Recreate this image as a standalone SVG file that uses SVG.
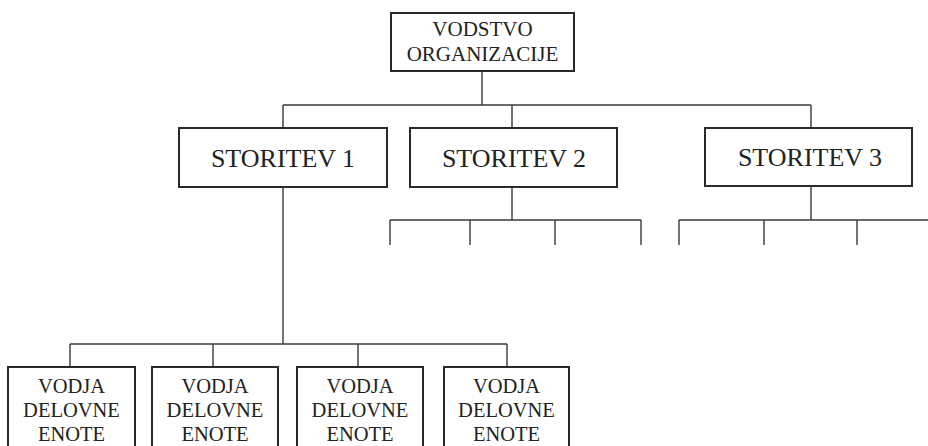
<svg xmlns="http://www.w3.org/2000/svg" width="928" height="446" viewBox="0 0 928 446">
  <style>
    .box { fill: #ffffff; stroke: #2a2a2a; stroke-width: 2; }
    .link { fill: none; stroke: #3a3a3a; stroke-width: 1.4; }
    .lbl { font-family: "Liberation Serif", "Times New Roman", serif; fill: #222222; text-anchor: middle; }
    .top { font-size: 21px; }
    .mid { font-size: 26px; }
    .low { font-size: 20.5px; }
  </style>
  <rect width="928" height="446" fill="#ffffff"/>

  <g id="connectors">
    <!-- leadership to services -->
    <path class="link" d="M482 71 V105 M283 105 H811 M283 105 V128 M512 105 V128 M811 105 V128"/>
    <!-- service 1 to unit leaders -->
    <path class="link" d="M283 187 V344 M70 344 H507 M70 344 V367 M213 344 V367 M358 344 V367 M507 344 V367"/>
    <!-- service 2 branches -->
    <path class="link" d="M512 187 V220 M390 220 H641 M390 220 V245 M470 220 V245 M555 220 V245 M641 220 V245"/>
    <!-- service 3 branches -->
    <path class="link" d="M811 186 V220 M679 220 H928 M679 220 V245 M764 220 V245 M857 220 V245"/>
  </g>

  <g id="vodstvo">
    <rect class="box" x="391" y="13" width="183" height="58"/>
    <text class="lbl top" x="482.5" y="36">VODSTVO</text>
    <text class="lbl top" x="482.5" y="61">ORGANIZACIJE</text>
  </g>

  <g id="storitev1">
    <rect class="box" x="179" y="128" width="208" height="59"/>
    <text class="lbl mid" x="283" y="167">STORITEV 1</text>
  </g>
  <g id="storitev2">
    <rect class="box" x="410" y="128" width="207" height="59"/>
    <text class="lbl mid" x="514" y="167">STORITEV 2</text>
  </g>
  <g id="storitev3">
    <rect class="box" x="705" y="128" width="207" height="58"/>
    <text class="lbl mid" x="810" y="166">STORITEV 3</text>
  </g>

  <g id="vodja1">
    <rect class="box" x="8" y="367" width="127" height="100"/>
    <text class="lbl low" x="71.5" y="393">VODJA</text>
    <text class="lbl low" x="71.5" y="417">DELOVNE</text>
    <text class="lbl low" x="71.5" y="441">ENOTE</text>
  </g>
  <g id="vodja2">
    <rect class="box" x="152" y="367" width="126" height="100"/>
    <text class="lbl low" x="215" y="393">VODJA</text>
    <text class="lbl low" x="215" y="417">DELOVNE</text>
    <text class="lbl low" x="215" y="441">ENOTE</text>
  </g>
  <g id="vodja3">
    <rect class="box" x="297" y="367" width="126" height="100"/>
    <text class="lbl low" x="360" y="393">VODJA</text>
    <text class="lbl low" x="360" y="417">DELOVNE</text>
    <text class="lbl low" x="360" y="441">ENOTE</text>
  </g>
  <g id="vodja4">
    <rect class="box" x="444" y="367" width="125" height="100"/>
    <text class="lbl low" x="506.5" y="393">VODJA</text>
    <text class="lbl low" x="506.5" y="417">DELOVNE</text>
    <text class="lbl low" x="506.5" y="441">ENOTE</text>
  </g>
</svg>
